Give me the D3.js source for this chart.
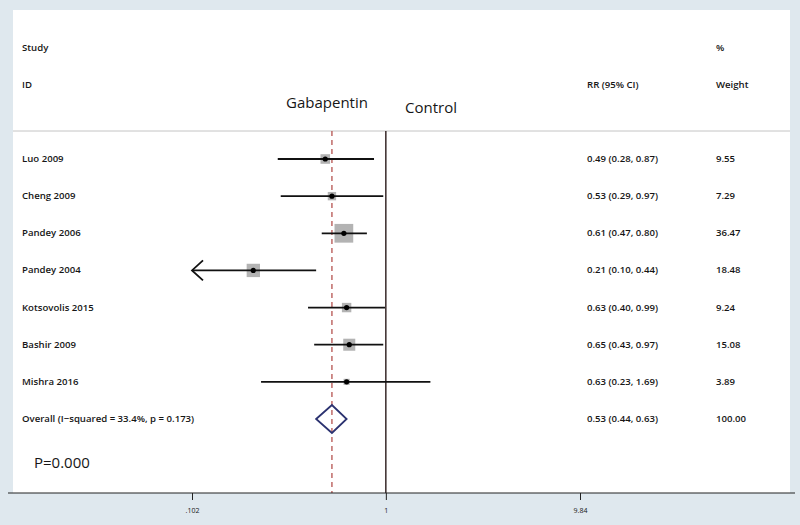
<!DOCTYPE html>
<html><head><meta charset="utf-8">
<script src="https://cdn.jsdelivr.net/npm/d3@7"></script>
<style>body{margin:0;background:#dfe8ee;} svg{display:block;} text{font-family:"Open Sans",sans-serif;fill:#161616;}</style>
</head><body><svg id="c" width="800" height="525"></svg>
<script>
const studies = ["Luo 2009","Cheng 2009","Pandey 2006","Pandey 2004","Kotsovolis 2015","Bashir 2009","Mishra 2016"];
const rr = [0.49,0.53,0.61,0.21,0.63,0.65,0.63];
const lower = [0.28,0.29,0.47,0.10,0.40,0.43,0.23];
const upper = [0.87,0.97,0.80,0.44,0.99,0.97,1.69];
const weights = ["9.55","7.29","36.47","18.48","9.24","15.08","3.89"];
const overall = {label:"Overall  (I\u2212squared = 33.4%, p = 0.173)", rr:0.53, lo:0.44, hi:0.63, weight:"100.00"};
const tickValues = [0.102, 1, 9.84];
const tickLabels = [".102","1","9.84"];

const svg = d3.select("#c");
const x = d3.scaleLog().domain([0.102, 9.84]).range([192, 580]);
const rows = studies.concat(["Overall"]);
const y = d3.scalePoint().domain(rows).range([159, 419]);
const fmt = d3.format(".2f");

// panel
svg.append("rect").attr("x",13).attr("y",10).attr("width",777).attr("height",483).attr("fill","#fff");
svg.append("line").attr("x1",13).attr("x2",790).attr("y1",131).attr("y2",131).attr("stroke","#c4c4c4").attr("stroke-width",1);

// headers
const fs = 9.6;
const fw = 600;
function t(xp, yp, str, size, weight, anchor) {
  return svg.append("text").attr("x",xp).attr("y",yp).attr("font-size",size||fs)
    .attr("font-weight",weight||fw).attr("text-anchor",anchor||"start").text(str);
}
t(22,51,"Study"); t(22,88,"ID"); t(587,88,"RR (95% CI)"); t(716,51,"%"); t(716,88,"Weight");
t(327,108,"Gabapentin",15,400,"middle");
t(405,113,"Control",15,400);

// reference lines
svg.append("line").attr("x1",x(1)).attr("x2",x(1)).attr("y1",131).attr("y2",493).attr("stroke","#2a1a1a").attr("stroke-width",1.4);
svg.append("line").attr("x1",x(overall.rr)).attr("x2",x(overall.rr)).attr("y1",131).attr("y2",493)
  .attr("stroke","#b5524f").attr("stroke-width",1.3).attr("stroke-dasharray","5,4");

// studies
const xmin = x.domain()[0];
studies.forEach((s,i)=>{
  const yy = y(s);
  const w = +weights[i];
  const side = 3.1*Math.sqrt(w);
  svg.append("rect").attr("x",x(rr[i])-side/2).attr("y",yy-side/2).attr("width",side).attr("height",side).attr("fill","#b3b3b3");
  const lo = Math.max(lower[i], xmin);
  svg.append("line").attr("x1",x(lo)).attr("x2",x(upper[i])).attr("y1",yy).attr("y2",yy).attr("stroke","#111").attr("stroke-width",1.8);
  if (lower[i] < xmin) {
    svg.append("path").attr("d",`M${x(lo)+11},${yy-10} L${x(lo)},${yy} L${x(lo)+11},${yy+10}`)
      .attr("fill","none").attr("stroke","#111").attr("stroke-width",1.8);
  }
  svg.append("circle").attr("cx",x(rr[i])).attr("cy",yy).attr("r",2.6).attr("fill","#000");
  t(22,yy+3,s);
  t(587,yy+3,`${fmt(rr[i])} (${fmt(lower[i])}, ${fmt(upper[i])})`);
  t(716,yy+3,weights[i]);
});

// overall
const yo = y("Overall");
svg.append("path").attr("d",`M${x(overall.lo)},${yo} L${x(overall.rr)},${yo-14} L${x(overall.hi)},${yo} L${x(overall.rr)},${yo+14} Z`)
  .attr("fill","none").attr("stroke","#2b3270").attr("stroke-width",1.8);
t(22,yo+3,overall.label);
t(587,yo+3,`${fmt(overall.rr)} (${fmt(overall.lo)}, ${fmt(overall.hi)})`);
t(716,yo+3,overall.weight);
t(34,468,"P=0.000",15,400);

// axis
const axis = d3.axisBottom(x).tickValues(tickValues).tickFormat((d,i)=>tickLabels[i]).tickSize(7).tickSizeOuter(0);
const g = svg.append("g").attr("transform","translate(0,493)").call(axis);
g.select(".domain").remove();
g.selectAll(".tick line").attr("stroke","#222").attr("stroke-width",1);
g.selectAll(".tick text").attr("font-size",7).attr("font-family","Open Sans, sans-serif").attr("fill","#222").attr("dy","1.4em");
svg.append("line").attr("x1",8).attr("x2",795).attr("y1",493).attr("y2",493).attr("stroke","#222").attr("stroke-width",1.2);
</script></body></html>
